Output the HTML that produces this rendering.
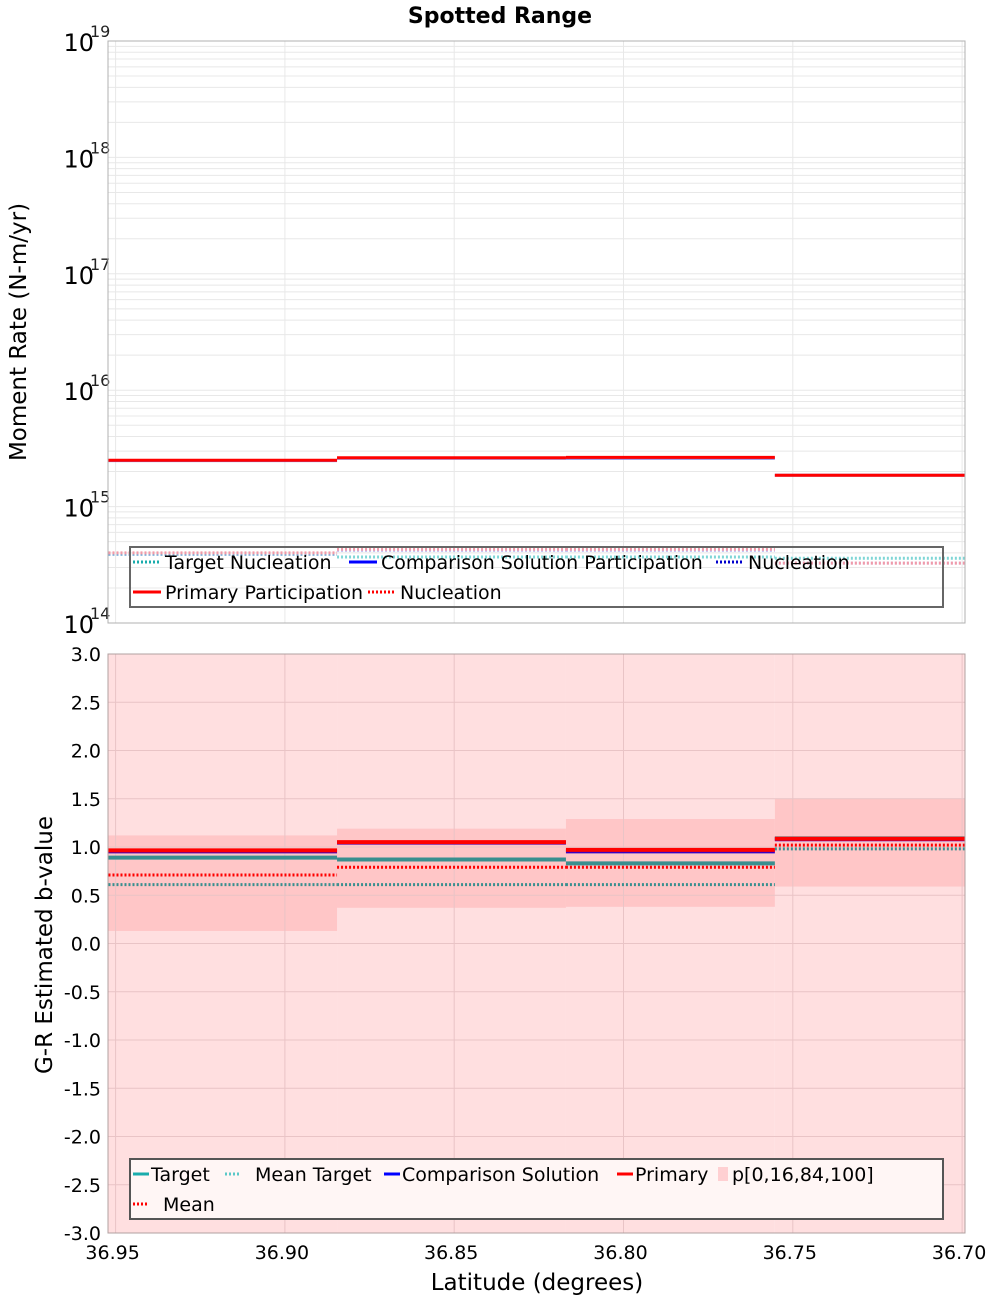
<!DOCTYPE html>
<html><head><meta charset="utf-8">
<style>
body{margin:0;background:#fff;}
svg text{font-family:"DejaVu Sans","Liberation Sans",sans-serif;}
</style></head>
<body>
<svg id="chart" width="1000" height="1300" xmlns="http://www.w3.org/2000/svg">
<text x="500" y="23" text-anchor="middle" font-size="22" font-weight="bold">Spotted Range</text>
<g id="topG"></g>
<g id="botG"></g>
<text transform="translate(26,332) rotate(-90)" text-anchor="middle" font-size="23">Moment Rate (N-m/yr)</text>
<text transform="translate(52,945) rotate(-90)" text-anchor="middle" font-size="23">G-R Estimated b-value</text>
<text x="537" y="1290" text-anchor="middle" font-size="23">Latitude (degrees)</text>
</svg>
<script>
// shared segment bins (latitude)
const binEdges = [36.9521, 36.8846, 36.817, 36.7553, 36.6991];
// top chart: moment rates
const primaryPart = [2.5e15, 2.63e15, 2.65e15, 1.86e15];
const compPart = [2.48e15, 2.6e15, 2.6e15, 1.86e15];
const primaryNucl = [4.0e14, 4.3e14, 4.3e14, 3.27e14];
const compNucl = [3.9e14, 4.2e14, 4.2e14, 3.27e14];
const targetNucl = [3.9e14, 3.69e14, 3.69e14, 3.6e14];
const topTicks = [14, 15, 16, 17, 18, 19];
// bottom chart: b-values
const bTarget = [0.89, 0.87, 0.83, 1.09];
const bMeanTarget = [0.61, 0.61, 0.61, 0.98];
const bComparison = [0.955, 1.045, 0.955, 1.08];
const bPrimary = [0.965, 1.05, 0.97, 1.085];
const bMean = [0.71, 0.79, 0.79, 1.02];
const bP16 = [0.13, 0.37, 0.38, 0.59];
const bP84 = [1.12, 1.19, 1.29, 1.50];
const bP0 = [-3.5, -3.5, -3.5, -3.5];
const bP100 = [3.5, 3.5, 3.5, 3.5];
const bTicks = [3.0, 2.5, 2.0, 1.5, 1.0, 0.5, 0.0, -0.5, -1.0, -1.5, -2.0, -2.5, -3.0];
const xTicks = [36.95, 36.90, 36.85, 36.80, 36.75, 36.70];

const NS = "http://www.w3.org/2000/svg";
const L = 108, R = 965;
const xs = v => 115.6 + (36.95 - v) / 0.05 * 169.3;
const ty = v => 623 - (Math.log10(v) - 14) * 116.4;
const by = v => 654 + (3 - v) * 96.5;
const BT = 654, BB = 1233;
function mk(parent, tag, attrs){const e=document.createElementNS(NS,tag);for(const k in attrs)e.setAttribute(k,attrs[k]);parent.appendChild(e);return e;}
const topG = document.getElementById('topG'), botG = document.getElementById('botG');

const defs = mk(document.getElementById('chart'),'defs',{});
const c1 = mk(defs,'clipPath',{id:'ct'}); mk(c1,'rect',{x:L,y:41,width:R-L,height:582});
const c2 = mk(defs,'clipPath',{id:'cb'}); mk(c2,'rect',{x:L,y:BT,width:R-L,height:BB-BT});

// top grid
for (let d=14; d<19; d++) for (let m=1; m<10; m++){
  const y = ty(m*Math.pow(10,d));
  const g = mk(topG,'line',{x1:L,x2:R,y1:y,y2:y,stroke:'#e8e8e8','stroke-width':1});
  
  
}
xTicks.forEach(v=>{const g=mk(topG,'line',{x1:xs(v),x2:xs(v),y1:41,y2:623,stroke:'#e8e8e8','stroke-width':1});
  
  });
topTicks.forEach(p=>{
  const t = mk(topG,'text',{x:94,y:ty(Math.pow(10,p))+10,'text-anchor':'end','font-size':24});
  t.textContent='10';
  
  
  const s = mk(topG,'text',{x:90,y:ty(Math.pow(10,p))-4,'font-size':16,fill:'#222'});
  s.textContent=String(p);
  
  
});
function steps(parent, arr, f, style, name, clip){
  for (let i=0;i<arr.length;i++){
    const x1 = Math.max(L, xs(binEdges[i])), x2 = Math.min(R, xs(binEdges[i+1]));
    const y = f(arr[i]);
    const a = Object.assign({x1:x1,x2:x2,y1:y,y2:y,'clip-path':`url(#${clip})`}, style);
    const e = mk(parent,'line',a);
    
    
  }
}
steps(topG, targetNucl, ty, {stroke:'#7fd6d6','stroke-width':3,'stroke-dasharray':'2 2'}, 'target-nucleation','ct');
steps(topG, compNucl, ty, {stroke:'#5a5adf','stroke-width':3,'stroke-dasharray':'2 2',opacity:0.35}, 'comparison-nucleation','ct');
steps(topG, primaryNucl, ty, {stroke:'#f29aa8','stroke-width':3,'stroke-dasharray':'2 2'}, 'primary-nucleation','ct');
steps(topG, compPart, ty, {stroke:'#8080e0','stroke-width':3}, 'comparison-participation','ct');
steps(topG, primaryPart, ty, {stroke:'#ff0000','stroke-width':3}, 'primary-participation','ct');
(function(){const r=mk(topG,'rect',{x:L,y:41,width:R-L,height:582,fill:'none',stroke:'#b0b0b0'});
 
 })();

// top legend
(function(){
  const g = mk(topG,'g',{});
  
  
  mk(g,'rect',{x:130,y:547,width:813,height:60,fill:'none',stroke:'#666','stroke-width':2});
  const items=[[133,562,'#1aacac','2 2','Target Nucleation'],[349,562,'#0000ff','','Comparison Solution Participation'],[716,562,'#0000cc','2 2','Nucleation'],[133,592,'#ff0000','','Primary Participation'],[368,592,'#ff0000','2 2','Nucleation']];
  items.forEach(it=>{
    const e=mk(g,'g',{});
    
    
    mk(e,'line',{x1:it[0],x2:it[0]+28,y1:it[1],y2:it[1],stroke:it[2],'stroke-width':3,'stroke-dasharray':it[3]||'none'});
    const t=mk(e,'text',{x:it[0]+32,y:it[1]+7,'font-size':19}); t.textContent=it[4];
  });
})();

// bottom
(function(){const r=mk(botG,'rect',{x:L,y:BT,width:R-L,height:BB-BT,fill:'#fff'});
 
 })();
function bands(lo, hi, color, name){
  for (let i=0;i<lo.length;i++){
    const x1 = Math.max(L, xs(binEdges[i])), x2 = Math.min(R, xs(binEdges[i+1]));
    const e=mk(botG,'rect',{x:x1,y:by(hi[i]),width:x2-x1,height:by(lo[i])-by(hi[i]),fill:color,'clip-path':'url(#cb)'});
    
    
  }
}
bands(bP0, bP100, '#ffdfe0', 'p0-p100-band');
bands(bP16, bP84, '#ffc6c7', 'p16-p84-band');
bTicks.forEach(v=>{const g=mk(botG,'line',{x1:L,x2:R,y1:by(v),y2:by(v),stroke:'#e9c4c6','stroke-width':1});
  
  
  const t=mk(botG,'text',{x:101,y:by(v)+7,'text-anchor':'end','font-size':19}); t.textContent=v.toFixed(1);
  
  });
xTicks.forEach(v=>{const g=mk(botG,'line',{x1:xs(v),x2:xs(v),y1:BT,y2:BB,stroke:'#e9c4c6','stroke-width':1});
  
  
  const t=mk(botG,'text',{x:xs(v)-3,y:1259,'text-anchor':'middle','font-size':19}); t.textContent=v.toFixed(2);
  
  });
steps(botG, bMeanTarget, by, {stroke:'#3a8f8f','stroke-width':3,'stroke-dasharray':'2 2'}, 'mean-target','cb');
steps(botG, bMean, by, {stroke:'#ff0000','stroke-width':3,'stroke-dasharray':'2 2'}, 'mean','cb');
steps(botG, bTarget, by, {stroke:'#3a8f8f','stroke-width':4}, 'target','cb');
steps(botG, bComparison, by, {stroke:'#3a00c0','stroke-width':4}, 'comparison-solution','cb');
steps(botG, bPrimary, by, {stroke:'#ff0000','stroke-width':4}, 'primary','cb');
(function(){const r=mk(botG,'rect',{x:L,y:BT,width:R-L,height:BB-BT,fill:'none',stroke:'#b0a0a0'});
 
 })();
(function(){
  const g = mk(botG,'g',{});
  
  
  mk(g,'rect',{x:130,y:1159,width:813,height:60,fill:'#fff6f5',stroke:'#555','stroke-width':2});
  const items=[[133,1174,'#1aacac','','Target'],[225,1174,'#5bc8c8','2 2','Mean Target'],[384,1174,'#0000ff','','Comparison Solution'],[617,1174,'#ff0000','','Primary'],[718,1174,'#ffd0d2','','p[0,16,84,100]'],[133,1204,'#ff0000','2 2','Mean']];
  items.forEach((it,k)=>{
    const e=mk(g,'g',{});
    
    
    if(k===4) mk(e,'rect',{x:it[0],y:it[1]-7,width:10,height:14,fill:it[2]});
    else mk(e,'line',{x1:it[0],x2:it[0]+16,y1:it[1],y2:it[1],stroke:it[2],'stroke-width':3,'stroke-dasharray':it[3]||'none'});
    const t=mk(e,'text',{x:it[0]+(k===4?14:(k===1||k===5?30:18)),y:it[1]+7,'font-size':19}); t.textContent=it[4];
  });
})();
</script>
</body></html>
